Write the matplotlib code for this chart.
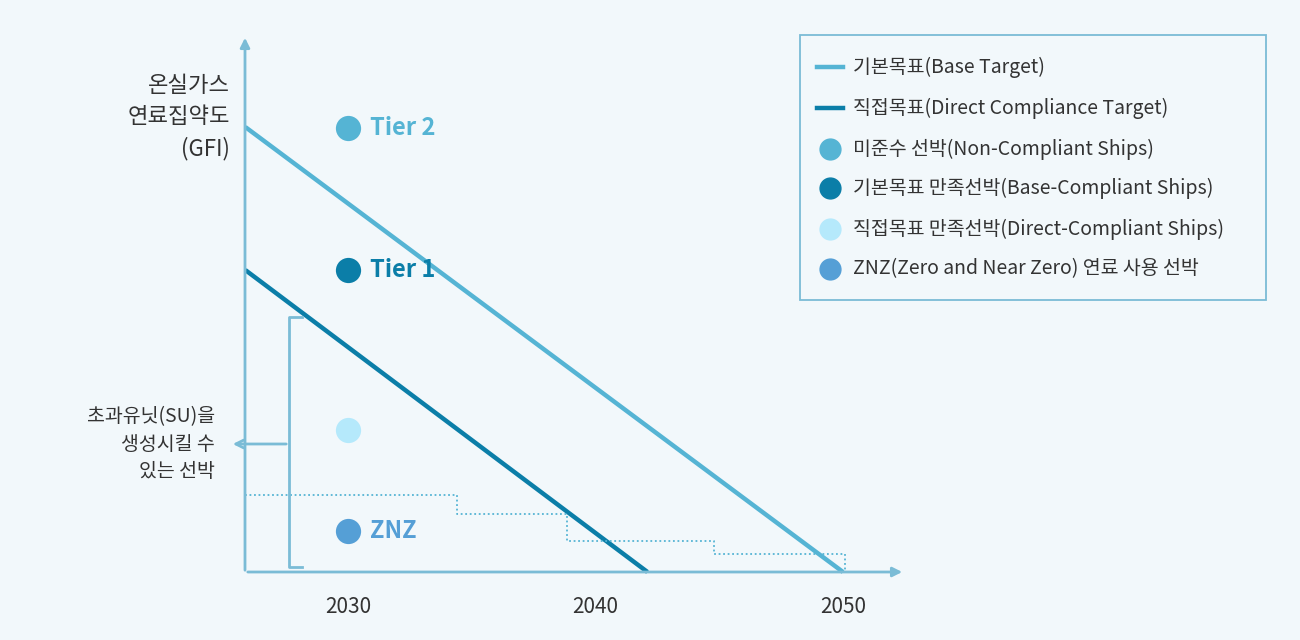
import matplotlib
matplotlib.use("Agg")
import matplotlib.pyplot as plt
from matplotlib.patches import Rectangle
from matplotlib.lines import Line2D

plt.rcParams['font.family'] = ['Noto Sans CJK KR', 'DejaVu Sans']

# data (years, GFI in arbitrary units)
base_years = [2025.85, 2050.0]
base_gfi = [445, 0]
direct_years = [2025.85, 2042.1]
direct_gfi = [302, 0]
step_years = [2025.85, 2034.4, 2034.4, 2038.85, 2038.85, 2044.8, 2044.8, 2050.1, 2050.1]
step_gfi = [77, 77, 58, 58, 31, 31, 18, 18, 0]
tick_years = [2030, 2040, 2050]
tick_labels = ['2030', '2040', '2050']
ship_labels = ['Tier 2', 'Tier 1', '', 'ZNZ']
ship_gfi = [444, 302, 142, 41]
ship_year = 2030
legend_labels = ['기본목표(Base Target)', '직접목표(Direct Compliance Target)',
                 '미준수 선박(Non-Compliant Ships)', '기본목표 만족선박(Base-Compliant Ships)',
                 '직접목표 만족선박(Direct-Compliant Ships)', 'ZNZ(Zero and Near Zero) 연료 사용 선박']

C_BASE = '#55b4d4'; C_DIR = '#0b7ea8'; C_LIGHT = '#b5e9fb'; C_ZNZ = '#559fd6'
C_AX = '#7bbcd6'; BG = '#f2f8fb'; TXT = '#333333'
ship_colors = [C_BASE, C_DIR, C_LIGHT, C_ZNZ]

fig = plt.figure(figsize=(13, 6.4), dpi=100, facecolor=BG)
ax = fig.add_axes([0, 0, 1, 1])
ax.set_facecolor(BG)
PX = 24.75
ax.set_xlim(2030 - 348 / PX, 2030 + 952 / PX)
ax.set_ylim(-68, 572)
ax.axis('off')
x0 = 2030 - (348 - 245) / PX

# axes arrows
ax.annotate('', xy=(x0, 537), xytext=(x0, -1), arrowprops=dict(arrowstyle='-|>', color=C_AX, lw=2, mutation_scale=14))
ax.annotate('', xy=(2030 + 557 / PX, 0), xytext=(x0, 0), arrowprops=dict(arrowstyle='-|>', color=C_AX, lw=2, mutation_scale=14))

ax.plot(base_years, base_gfi, color=C_BASE, lw=3.2, solid_capstyle='butt')
ax.plot(direct_years, direct_gfi, color=C_DIR, lw=3.2, solid_capstyle='butt')
ax.plot(step_years, step_gfi, color=C_BASE, lw=1.3, ls=(0, (1, 1.5)))

for lab, g, c in zip(ship_labels, ship_gfi, ship_colors):
    ax.scatter([ship_year], [g], s=330, color=c, zorder=5, linewidths=0)
    if lab:
        ax.text(ship_year + 0.9, g, lab, color=c, fontsize=17, fontweight='bold', va='center', ha='left')

for t, l in zip(tick_years, tick_labels):
    ax.text(t, -35, l, fontsize=15, color=TXT, ha='center', va='center')

ax.text(x0 - 0.6, 455, '온실가스\n연료집약도\n(GFI)', fontsize=16, color=TXT, ha='right', va='center', linespacing=1.45)

# bracket
bx = 2030 - (348 - 289) / PX
bt = 2030 - (348 - 302) / PX
ax.plot([bt, bx, bx, bt], [255, 255, 5, 5], color=C_AX, lw=2)
ax.annotate('', xy=(2030 - (348 - 230) / PX, 128), xytext=(bx, 128),
            arrowprops=dict(arrowstyle='->', color=C_AX, lw=2, mutation_scale=14))
ax.text(2030 - (348 - 215) / PX, 128, '초과유닛(SU)을\n생성시킬 수\n있는 선박', fontsize=14, color=TXT,
        ha='right', va='center', linespacing=1.4)

# legend (figure pixel coordinates)
def fp(x, y):
    return (x / 1300, 1 - y / 640)
fig.patches.append(Rectangle(fp(800, 300), 466 / 1300, 265 / 640, transform=fig.transFigure,
                             facecolor='none', edgecolor=C_AX, lw=1.3))
rows = [67, 108, 149, 188, 229, 269]
for i, (lab, y) in enumerate(zip(legend_labels, rows)):
    if i < 2:
        c = [C_BASE, C_DIR][i]
        fig.add_artist(Line2D([817 / 1300, 843 / 1300], [1 - y / 640] * 2, color=c, lw=3.2, transform=fig.transFigure))
    else:
        c = ship_colors[i - 2]
        fig.add_artist(Line2D([830 / 1300], [1 - y / 640], marker='o', ms=15, color=c, mec=c, transform=fig.transFigure))
    fig.text(*fp(853, y), lab, fontsize=14, color=TXT, va='center', ha='left')

fig.savefig('out.png', dpi=100, facecolor=BG)
